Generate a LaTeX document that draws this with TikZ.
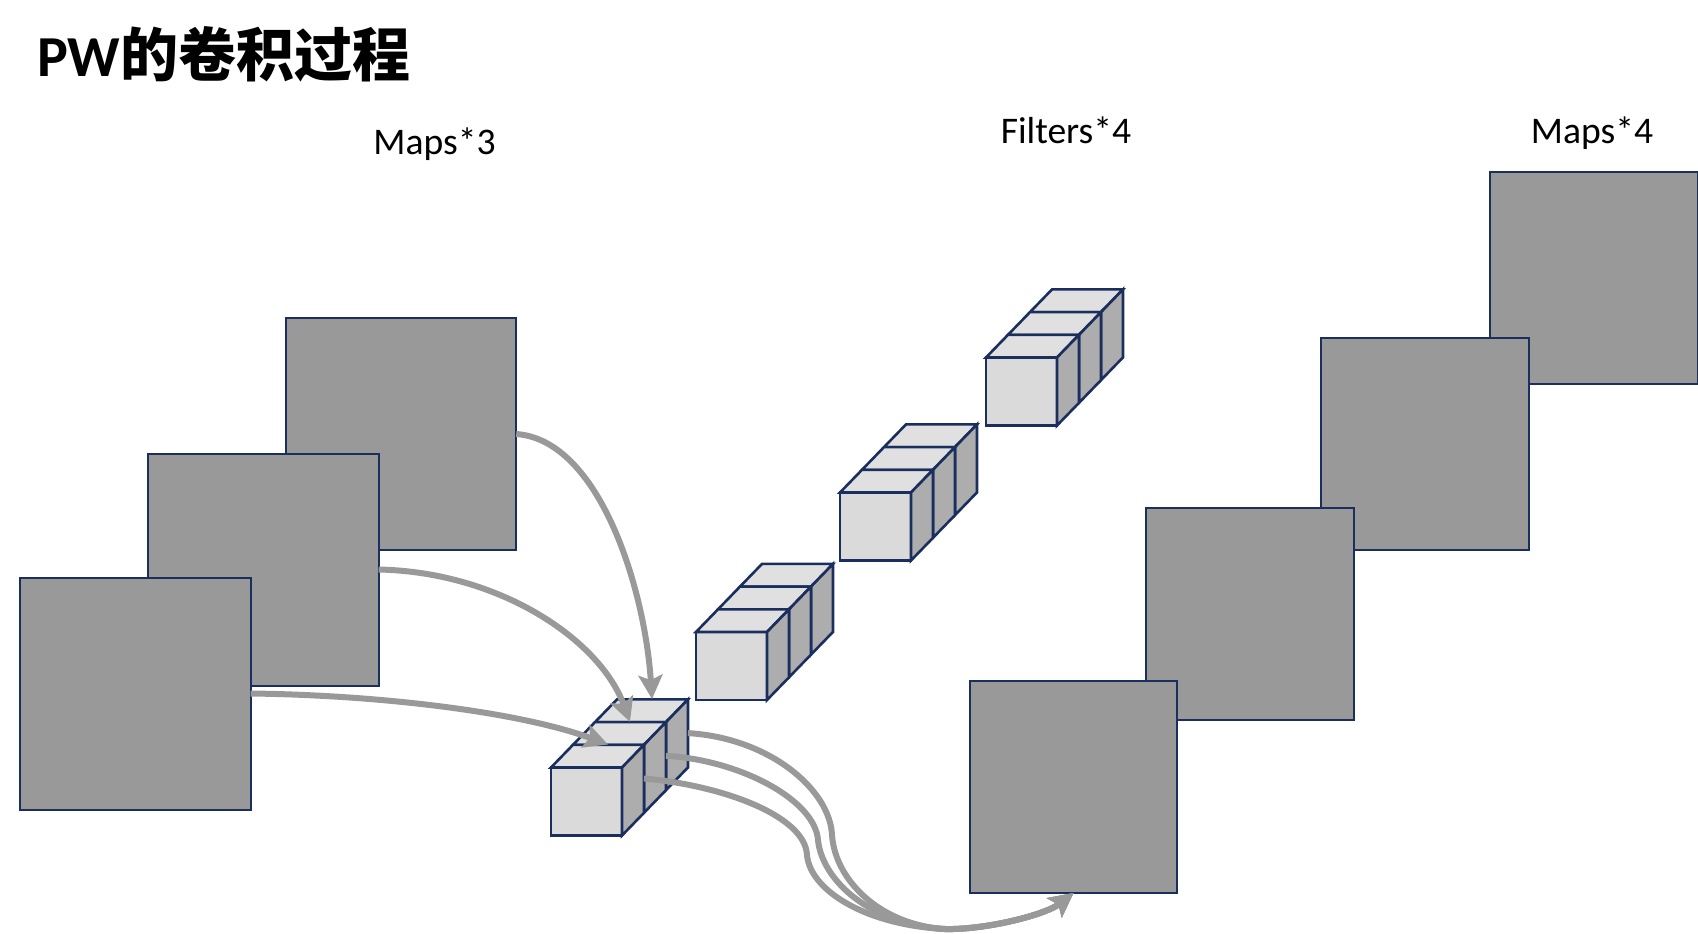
\documentclass[tikz,border=0pt]{standalone}
\usepackage{fontspec}
\setmainfont{Carlito}
\newfontfamily\cjk{Noto Sans CJK SC}
\usetikzlibrary{arrows.meta}
\definecolor{navy}{HTML}{1B2F5E}
\definecolor{mapgray}{HTML}{999999}
\definecolor{frontgray}{HTML}{DADADA}
\definecolor{topgray}{HTML}{E0E0E0}
\definecolor{sidegray}{HTML}{ADADAD}

\begin{document}
\begin{tikzpicture}[x=.5pt,y=-.5pt,
 every node/.style={inner sep=0pt,outer sep=0pt},
 lab/.style={font=\fontsize{18.8}{20}\selectfont,anchor=base},
 mapa/.style={draw=navy,fill=mapgray,line width=1pt,minimum width=115.2pt,minimum height=116pt},
 mapb/.style={draw=navy,fill=mapgray,line width=1pt,minimum width=103.6pt,minimum height=106pt},
 face/.style={draw=navy,line width=1.3pt,line join=miter},
 arr/.style={draw=mapgray,line width=3pt,-{Stealth[length=12pt,width=12pt,inset=2.5pt]}},
 cube/.pic={
  \node[face,fill=frontgray,anchor=south west,minimum width=35.5pt,minimum height=34pt] (-f) at (0,0) {};
  \draw[face,fill=topgray] (-f.north west)--++(22,-22.7)--++(71,0)--(-f.north east)--cycle;
  \draw[face,fill=sidegray] (-f.north east)--++(22,-22.7)--++(0,68)--(-f.south east)--cycle;
  \coordinate (-top) at (57,-91);
  \coordinate (-back) at (93,-57);
 }]
 \useasboundingbox (0,0) rectangle (1698,933);
 \node[font=\fontsize{29}{32}\selectfont\bfseries,anchor=base west] (title) at (37,76) {PW{\cjk 的卷积过程}};
 \node[lab] (lm3) at (434.5,154) {Maps*3};
 \node[lab] (lf4) at (1066,143) {Filters*4};
 \node[lab] (lm4) at (1592,143) {Maps*4};
 \node[mapa] (ma) at (401,434) {};
 \node[mapa] (mb) at (263.5,569.5) {};
 \node[mapa] (mc) at (135.5,693.5) {};
 \node[mapb] (md) at (1594,278) {};
 \node[mapb] (me) at (1425,443.5) {};
 \node[mapb] (mf) at (1250,614) {};
 \node[mapb] (mg) at (1073.5,787) {};
 \foreach \n/\x/\y in {f/696/700,g/840/560.5,h/986/425.5,p/551/835.5}
  \foreach \i in {2,1,0}
   \pic (\n\i) at ({\x+\i*22},{\y-\i*22.7}) {cube};
 \draw[arr] (ma.east) .. controls (600,440) and (645,590) .. (p2-top);
 \draw[arr] (mb.east) .. controls (500,572) and (600,640) .. (p1-top);
 \draw[arr] (mc.east) .. controls (380,695) and (520,712) .. (p0-top);
 \draw[arr] (p2-back) .. controls (770,738) and (830,790) .. (832,835) .. controls (835,880) and (880,925) .. (945,929) .. controls (985,930) and (1045,915) .. (mg.south);
 \draw[arr] (p1-back) .. controls (740,760) and (815,800) .. (818,840) .. controls (822,880) and (870,925) .. (945,929) .. controls (985,930) and (1045,915) .. (mg.south);
 \draw[arr] (p0-back) .. controls (720,785) and (805,815) .. (807,855) .. controls (810,890) and (865,925) .. (945,929) .. controls (985,930) and (1045,915) .. (mg.south);
\end{tikzpicture}
\end{document}
